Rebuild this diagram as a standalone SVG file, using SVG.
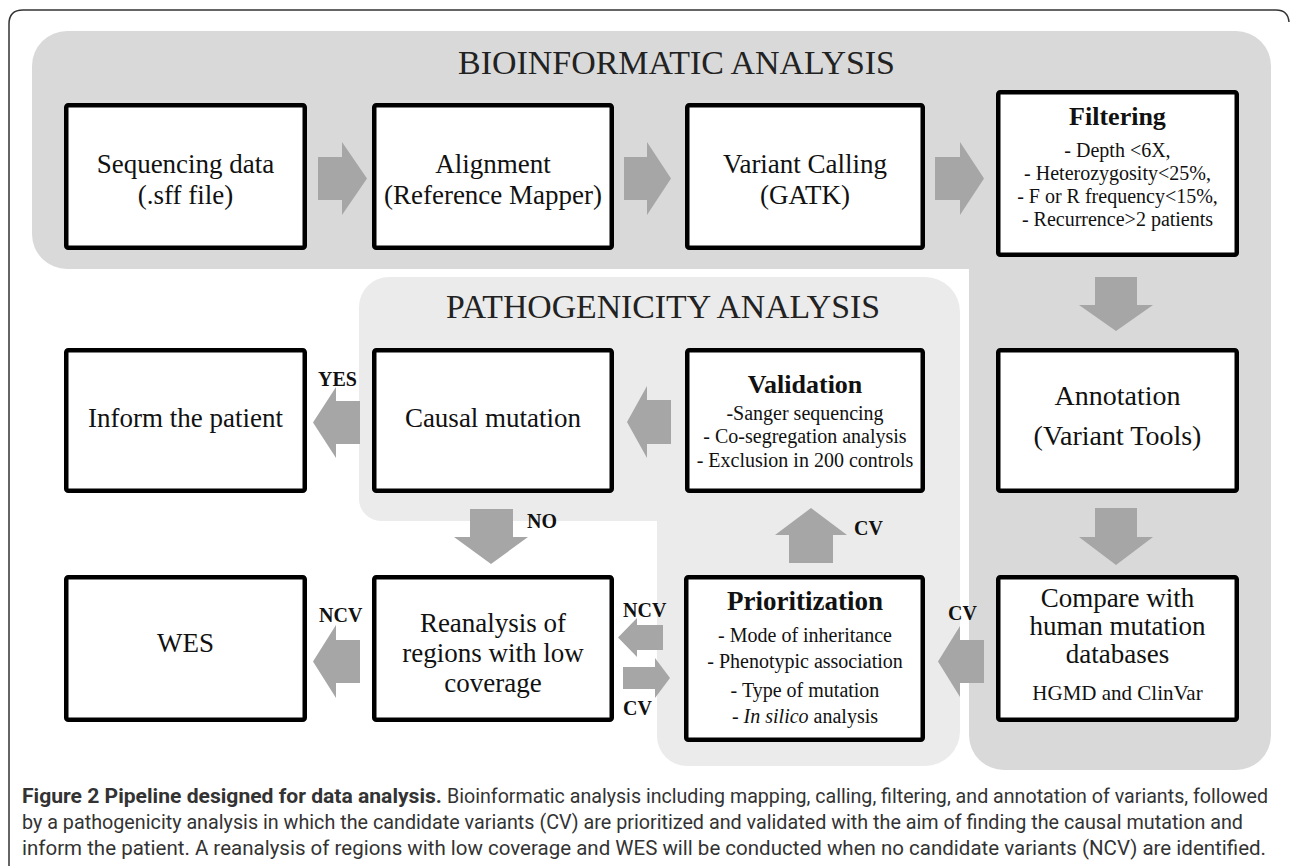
<svg xmlns="http://www.w3.org/2000/svg" width="1290" height="866" viewBox="0 0 1290 866">
<style>
.box{fill:#fff;stroke:#000;stroke-width:4.5}
.arr{fill:#a6a6a6}
.t{font-family:"Liberation Serif","Times New Roman",serif;fill:#111;text-anchor:middle}
.big{font-size:27px}
.hd{font-size:26px;font-weight:bold}
.sm{font-size:20px}
.lbl{font-family:"Liberation Serif","Times New Roman",serif;font-size:20px;font-weight:bold;fill:#111}
.ttl{font-family:"Liberation Serif","Times New Roman",serif;font-size:33px;fill:#222}
.cap{font-family:"Liberation Sans Narrow",Roboto,"Open Sans",sans-serif;font-size:20px;fill:#333}
</style>
<rect width="1290" height="866" fill="#fff"/>
<path d="M9,866 V24 Q9,10 23,10 H1276 Q1288,10 1289,22" fill="none" stroke="#333" stroke-width="1.5"/>

<g id="region-bioinformatic">
<path d="M32,66 A35,35 0 0 1 67,31 H1236 A35,35 0 0 1 1271,66 V735 A35,35 0 0 1 1236,770 H1004 A35,35 0 0 1 969,735 V269 H67 A35,35 0 0 1 32,234 Z" fill="#d9d9d9"/>
<text class="ttl" x="458" y="74" textLength="437" lengthAdjust="spacingAndGlyphs">BIOINFORMATIC ANALYSIS</text>
</g>
<g id="region-pathogenicity">
<path d="M359,307 A30,30 0 0 1 389,277 H925 A35,35 0 0 1 960,312 V731 A35,35 0 0 1 925,766 H687 A30,30 0 0 1 657,736 V521 H381 A22,22 0 0 1 359,499 Z" fill="#ebebeb"/>
<text class="ttl" x="446" y="318" textLength="434" lengthAdjust="spacingAndGlyphs">PATHOGENICITY ANALYSIS</text>
</g>

<g id="connectors">
<polygon class="arr" points="318,157 342,157 342,142 367,178.5 342,215 342,200 318,200"/>
<polygon class="arr" points="624,157 647,157 647,142 671,178.5 647,215 647,200 624,200"/>
<polygon class="arr" points="935,157 960,157 960,142 984,178.5 960,215 960,200 935,200"/>
<polygon class="arr" points="1095,277 1137,277 1137,305 1153,305 1116,331 1079,305 1095,305"/>
<polygon class="arr" points="1095,508 1137,508 1137,537 1153,537 1116,565 1079,537 1095,537"/>
<polygon class="arr" points="984,640 960,640 960,626 938,661.5 960,697 960,683 984,683"/>
<polygon class="arr" points="789,563 833,563 833,535 847,535 811,508 775,535 789,535"/>
<polygon class="arr" points="671,400 647,400 647,386 627,422 647,458 647,444 671,444"/>
<polygon class="arr" points="360,401 336,401 336,387 313,422.5 336,458 336,444 360,444"/>
<polygon class="arr" points="470,509 513,509 513,537 528,537 491,564 454,537 470,537"/>
<polygon class="arr" points="663,625 637,625 637,618 618,637.5 637,657 637,650 663,650"/>
<polygon class="arr" points="623,667 655,667 655,658 670,678 655,698 655,689 623,689"/>
<polygon class="arr" points="360,640 336,640 336,625 313,661.5 336,698 336,683 360,683"/>
<text class="lbl" x="318" y="386">YES</text>
<text class="lbl" x="527" y="528">NO</text>
<text class="lbl" x="854" y="535">CV</text>
<text class="lbl" x="948" y="620">CV</text>
<text class="lbl" x="623" y="617">NCV</text>
<text class="lbl" x="623" y="715">CV</text>
<text class="lbl" x="319" y="622">NCV</text>
</g>

<g id="node-sequencing">
<rect class="box" x="66.25" y="105.25" width="238.5" height="142.5" rx="2"/>
<text class="t big" x="185.5" y="173">Sequencing data</text>
<text class="t big" x="185.5" y="204">(.sff file)</text>
</g>
<g id="node-alignment">
<rect class="box" x="374.25" y="105.25" width="237.5" height="142.5" rx="2"/>
<text class="t big" x="493" y="173">Alignment</text>
<text class="t big" x="493" y="204">(Reference Mapper)</text>
</g>
<g id="node-variant-calling">
<rect class="box" x="687.25" y="105.25" width="235.5" height="142.5" rx="2"/>
<text class="t big" x="805" y="173">Variant Calling</text>
<text class="t big" x="805" y="204">(GATK)</text>
</g>
<g id="node-filtering">
<rect class="box" x="998.25" y="92.25" width="238.5" height="162.5" rx="2"/>
<text class="t hd" x="1117.5" y="125">Filtering</text>
<text class="t sm" x="1117.5" y="157">- Depth &lt;6X,</text>
<text class="t sm" x="1117.5" y="180">- Heterozygosity&lt;25%,</text>
<text class="t sm" x="1117.5" y="203">- F or R frequency&lt;15%,</text>
<text class="t sm" x="1117.5" y="226">- Recurrence&gt;2 patients</text>
</g>
<g id="node-inform">
<rect class="box" x="66.25" y="350.25" width="238.5" height="140.5" rx="2"/>
<text class="t big" x="185.5" y="427">Inform the patient</text>
</g>
<g id="node-causal">
<rect class="box" x="374.25" y="350.25" width="237.5" height="140.5" rx="2"/>
<text class="t big" x="493" y="427">Causal mutation</text>
</g>
<g id="node-validation">
<rect class="box" x="687.25" y="350.25" width="235.5" height="140.5" rx="2"/>
<text class="t hd" x="805" y="393">Validation</text>
<text class="t sm" x="805" y="420">-Sanger sequencing</text>
<text class="t sm" x="805" y="443">- Co-segregation analysis</text>
<text class="t sm" x="805" y="467">- Exclusion in 200 controls</text>
</g>
<g id="node-annotation">
<rect class="box" x="998.25" y="350.25" width="238.5" height="140.5" rx="2"/>
<text class="t" style="font-size:28px" x="1117.5" y="405">Annotation</text>
<text class="t" style="font-size:28px" x="1117.5" y="445">(Variant Tools)</text>
</g>
<g id="node-wes">
<rect class="box" x="66.25" y="577.25" width="238.5" height="142.5" rx="2"/>
<text class="t big" x="185.5" y="652">WES</text>
</g>
<g id="node-reanalysis">
<rect class="box" x="374.25" y="577.25" width="237.5" height="142.5" rx="2"/>
<text class="t big" x="493" y="632">Reanalysis of</text>
<text class="t big" x="493" y="662">regions with low</text>
<text class="t big" x="493" y="692">coverage</text>
</g>
<g id="node-prioritization">
<rect class="box" x="686.25" y="577.25" width="236.5" height="162.5" rx="2"/>
<text class="t hd" style="font-size:27px" x="805" y="610">Prioritization</text>
<text class="t sm" x="805" y="642">- Mode of inheritance</text>
<text class="t sm" x="805" y="668">- Phenotypic association</text>
<text class="t sm" x="805" y="697">- Type of mutation</text>
<text class="t sm" x="805" y="723">- <tspan font-style="italic">In silico</tspan> analysis</text>
</g>
<g id="node-compare">
<rect class="box" x="998.25" y="577.25" width="238.5" height="142.5" rx="2"/>
<text class="t big" x="1117.5" y="607">Compare with</text>
<text class="t big" x="1117.5" y="635">human mutation</text>
<text class="t big" x="1117.5" y="663">databases</text>
<text class="t" style="font-size:21px" x="1117.5" y="700">HGMD and ClinVar</text>
</g>

<g id="caption">
<text class="cap" x="22" y="803" font-weight="bold" fill="#111" textLength="420" lengthAdjust="spacingAndGlyphs">Figure 2 Pipeline designed for data analysis.</text>
<text class="cap" x="447" y="803" textLength="821" lengthAdjust="spacingAndGlyphs">Bioinformatic analysis including mapping, calling, filtering, and annotation of variants, followed</text>
<text class="cap" x="22" y="829" textLength="1221" lengthAdjust="spacingAndGlyphs">by a pathogenicity analysis in which the candidate variants (CV) are prioritized and validated with the aim of finding the causal mutation and</text>
<text class="cap" x="22" y="855" textLength="1244" lengthAdjust="spacingAndGlyphs">inform the patient. A reanalysis of regions with low coverage and WES will be conducted when no candidate variants (NCV) are identified.</text>
</g>
</svg>
